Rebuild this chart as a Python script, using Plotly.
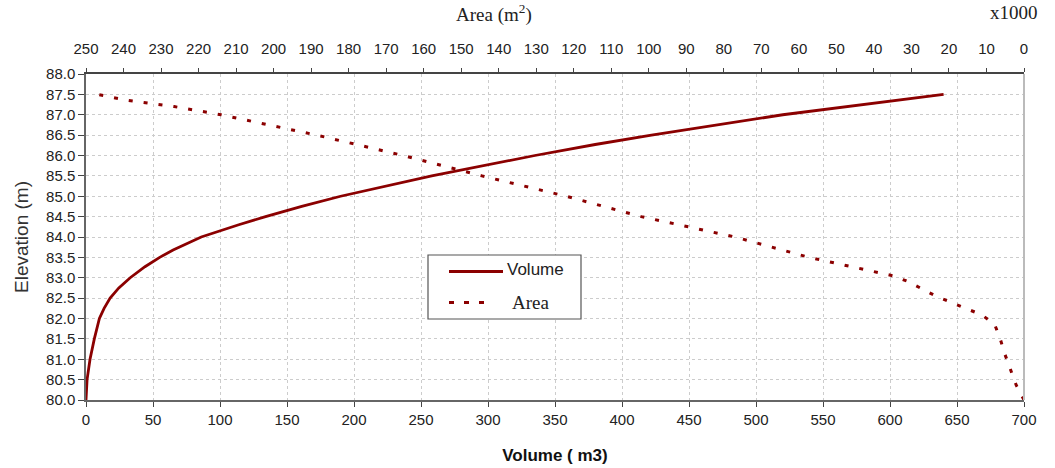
import plotly.graph_objects as go

# Elevation-volume curve (volume in m3)
vol_elev = [80.0, 80.25, 80.5, 80.66, 81.0, 81.5, 82.0, 82.25, 82.5, 82.75, 83.0, 83.27,
            83.5, 83.68, 84.0, 84.3, 84.5, 84.75, 85.0, 85.5, 86.0, 86.27, 86.5,
            87.0, 87.25, 87.5]
volume = [0, 0.3, 0.8, 1.5, 3, 6.2, 10, 13.5, 18, 24.5, 33, 44,
          55, 65, 86, 114, 134, 161, 190, 258, 335, 380, 422,
          520, 578, 640]

# Elevation-area curve (area in m2 x1000)
area_elev = [80.0, 80.37, 80.75, 81.15, 81.52, 81.87, 82.09, 82.54, 82.91, 83.05, 83.5,
             84.0, 84.24, 84.5, 85.0, 85.5, 86.0, 86.5, 87.0, 87.2, 87.35, 87.5]
area = [0, 2.1, 3.6, 5.2, 6.4, 7.9, 11.3, 23.3, 31, 35, 57.3,
        77, 89, 102, 122, 144.5, 165.5, 188.5, 214, 226.5, 238.7, 247]

vol_ticks = list(range(0, 701, 50))
area_ticks = list(range(0, 251, 10))
elev_ticks = [80 + 0.5 * i for i in range(17)]

RED = "#8b0000"
SANS = "Liberation Sans, Arial, sans-serif"
SERIF = "Liberation Serif, Times New Roman, serif"
AREA_DASH = "4px,11px"

fig = go.Figure()
fig.add_trace(go.Scatter(
    x=volume, y=vol_elev, mode="lines", name="Volume",
    line=dict(color=RED, width=2.8),
    xaxis="x", yaxis="y",
))
fig.add_trace(go.Scatter(
    x=area, y=area_elev, mode="lines", name="Area",
    line=dict(color=RED, width=3, dash=AREA_DASH),
    xaxis="x2", yaxis="y",
))

W, H = 1055, 468
L, R, T, B = 86, 31, 74, 68
pw, ph = W - L - R, H - T - B


def px(x):
    return (x - L) / pw


def py(y):
    return (H - B - y) / ph


# Legend box drawn in paper coordinates
legend_shapes = [
    dict(type="rect", xref="paper", yref="paper",
         x0=px(428), x1=px(581), y0=py(319), y1=py(255),
         fillcolor="white", line=dict(color="#555", width=1.2), layer="above"),
    dict(type="line", xref="paper", yref="paper",
         x0=px(449), x1=px(503), y0=py(271.5), y1=py(271.5),
         line=dict(color=RED, width=3), layer="above"),
    dict(type="line", xref="paper", yref="paper",
         x0=px(449), x1=px(490), y0=py(302.5), y1=py(302.5),
         line=dict(color=RED, width=3, dash="5px,10px"), layer="above"),
]
legend_labels = [
    dict(text="Volume", xref="paper", yref="paper", x=px(505), y=py(269),
         xanchor="left", yanchor="middle", showarrow=False,
         font=dict(family=SANS, size=17, color="#222")),
    dict(text="Area", xref="paper", yref="paper", x=px(510), y=py(302.5),
         xanchor="left", yanchor="middle", showarrow=False,
         font=dict(family=SERIF, size=19, color="#222")),
]

fig.update_layout(
    width=W, height=H,
    margin=dict(l=L, r=R, t=T, b=B, autoexpand=False),
    paper_bgcolor="white", plot_bgcolor="white",
    font=dict(family=SANS, size=15, color="#222"),
    showlegend=False,
    xaxis=dict(
        range=[0, 700], tickvals=vol_ticks, ticktext=[str(v) for v in vol_ticks],
        showgrid=True, gridcolor="#cccccc", griddash="3px,3px", gridwidth=1,
        showline=True, linecolor="#666", linewidth=2,
        ticks="outside", ticklen=5, tickcolor="#444", tickwidth=1,
        tickfont=dict(size=15), zeroline=False, automargin=False,
        title=dict(text="Volume ( m3)",
                   font=dict(size=17, family=SANS, weight="bold", color="#111"),
                   standoff=22),
    ),
    xaxis2=dict(
        overlaying="x", side="top", range=[250, 0],
        tickvals=area_ticks, ticktext=[str(v) for v in area_ticks],
        showgrid=False, zeroline=False, automargin=False,
        showline=True, linecolor="#444", linewidth=1.5,
        ticks="outside", ticklen=4, tickcolor="#444", tickwidth=1.2,
        tickfont=dict(size=15), ticklabelstandoff=8,
    ),
    yaxis=dict(
        range=[80, 88], tickvals=elev_ticks, ticktext=[f"{v:.1f}" for v in elev_ticks],
        showgrid=True, gridcolor="#cccccc", griddash="3px,3px", gridwidth=1,
        showline=True, linecolor="#666", linewidth=1.5,
        ticks="outside", ticklen=6, tickcolor="#444", tickwidth=1,
        tickfont=dict(size=15), zeroline=False, automargin=False,
        title=dict(text="Elevation (m)",
                   font=dict(size=19, family="Liberation Sans Narrow, Arial Narrow, Liberation Sans",
                             color="#333"),
                   standoff=12),
    ),
    shapes=[
        dict(type="line", xref="paper", yref="paper", x0=1, x1=1, y0=0, y1=1,
             line=dict(color="#bbbbbb", width=2)),
    ] + legend_shapes,
    annotations=[
        dict(text="Area (m<sup>2</sup>)", xref="paper", yref="paper",
             x=px(494), y=py(14), xanchor="center", yanchor="middle",
             showarrow=False, font=dict(family=SERIF, size=19, color="#222")),
        dict(text="x1000", xref="paper", yref="paper",
             x=px(1014), y=py(13), xanchor="center", yanchor="middle",
             showarrow=False, font=dict(family=SERIF, size=19, color="#222")),
    ] + legend_labels,
)

fig.write_html("out.html")
